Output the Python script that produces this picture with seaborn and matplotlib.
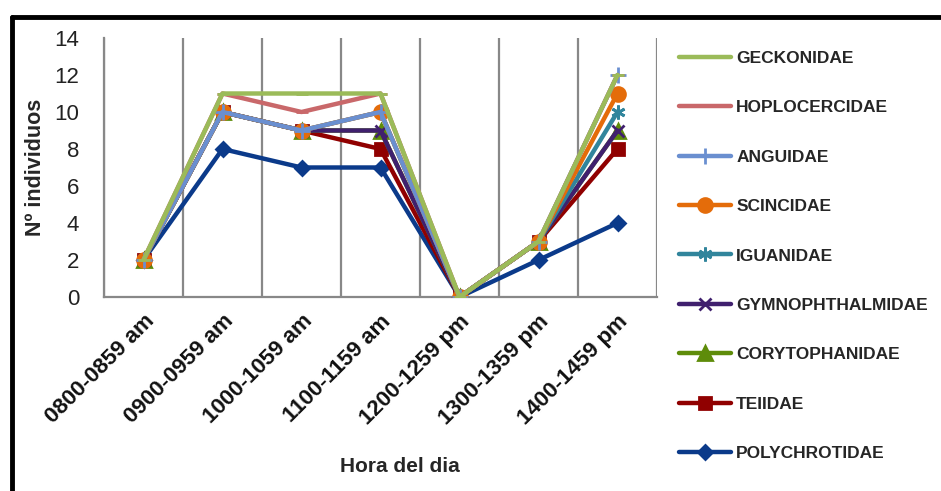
import matplotlib
matplotlib.use("Agg")
import matplotlib.pyplot as plt
from matplotlib.lines import Line2D
import seaborn as sns
import pandas as pd
import numpy as np

categories = ["0800-0859 am", "0900-0959 am", "1000-1059 am", "1100-1159 am",
              "1200-1259 pm", "1300-1359 pm", "1400-1459 pm"]

families = ["GECKONIDAE", "HOPLOCERCIDAE", "ANGUIDAE", "SCINCIDAE", "IGUANIDAE",
            "GYMNOPHTHALMIDAE", "CORYTOPHANIDAE", "TEIIDAE", "POLYCHROTIDAE"]

geckonidae = [2, 11, 11, 11, 0, 3, 12]
hoplocercidae = [2, 11, 10, 11, 0, 3, 12]
anguidae = [2, 10, 9, 10, 0, 3, 12]
scincidae = [2, 10, 9, 10, 0, 3, 11]
iguanidae = [2, 10, 9, 10, 0, 3, 10]
gymnophthalmidae = [2, 10, 9, 9, 0, 3, 9]
corytophanidae = [2, 10, 9, 9, 0, 3, 9]
teiidae = [2, 10, 9, 8, 0, 3, 8]
polychrotidae = [2, 8, 7, 7, 0, 2, 4]

series = [geckonidae, hoplocercidae, anguidae, scincidae, iguanidae,
          gymnophthalmidae, corytophanidae, teiidae, polychrotidae]

colors = ["#9BBB59", "#C9686A", "#6A8FD0", "#E46C0A", "#31859C",
          "#40206E", "#5E8C0A", "#900000", "#0B3A8A"]
markers = ["_", "_", "+", "o", (6, 2, 0), "x", "^", "s", "D"]
msizes = [9, 9, 11, 10, 10, 9, 10, 9, 7]

sns.set_style("white")
plt.rcParams['font.family'] = ['Liberation Sans', 'DejaVu Sans']

fig = plt.figure(figsize=(9.41, 4.91), dpi=100)
ax = fig.add_axes([104/941, 1-297/491, (657-104)/941, (297-38)/491])

for i, (fam, vals) in enumerate(zip(families, series)):
    df = pd.DataFrame({"hora": pd.Categorical(categories, categories=categories, ordered=True),
                       "n": vals})
    df["pos"] = np.arange(len(categories))
    sns.lineplot(data=df, x="pos", y="n", ax=ax, color=colors[i], marker=markers[i],
                 markersize=msizes[i], markeredgewidth=2, markeredgecolor=colors[i],
                 linewidth=3.2, label=fam, zorder=20 - i, sort=False)

ax.set_xlim(-0.5, len(categories) - 0.5)
ax.set_ylim(0, 14)
ax.set_yticks(range(0, 15, 2))
ax.set_xticks(range(len(categories)))
ax.set_xticklabels(categories, rotation=45, ha="right", rotation_mode="anchor",
                   fontsize=16, fontweight="bold", color="#111111")
ax.set_xticks(np.arange(-0.5, len(categories), 1), minor=True)
ax.tick_params(axis="x", which="major", length=0, pad=10)
ax.tick_params(axis="x", which="minor", length=6, width=1.5, color="#888888", direction="out")
ax.tick_params(axis="y", length=6, width=1.5, color="#888888", direction="out",
               labelsize=16, labelcolor="#222222", pad=12)
ax.grid(False)
ax.xaxis.grid(True, which="minor", color="#888888", linewidth=1.6)
for s in ["top", "right"]:
    ax.spines[s].set_visible(False)
for s in ["left", "bottom"]:
    ax.spines[s].set_color("#888888")
    ax.spines[s].set_linewidth(1.6)
ax.set_ylabel("Nº individuos", fontsize=15.5, fontweight="bold")
ax.yaxis.set_label_coords(-(104 - 46) / 553, 0.5)
ax.set_xlabel("Hora del dia", fontsize=15, fontweight="bold")
ax.xaxis.set_label_coords((400 - 104) / 553, -(457 - 297) / 259)

handles, labels = ax.get_legend_handles_labels()
if ax.legend_:
    ax.legend_.remove()
fig.legend(handles, labels, loc="upper left", bbox_to_anchor=(672/941, 1-44/491),
           frameon=False, prop={"weight": "bold", "size": 12.5}, handlelength=3.0,
           handletextpad=0.3, labelspacing=1.97, borderaxespad=0)

fig.add_artist(Line2D([12/941, 1], [1-17/491, 1-17/491], transform=fig.transFigure,
                      color="black", linewidth=3.5))
fig.add_artist(Line2D([12/941, 12/941], [0, 1-17/491], transform=fig.transFigure,
                      color="black", linewidth=3.5))

fig.savefig("out.png", dpi=100)
